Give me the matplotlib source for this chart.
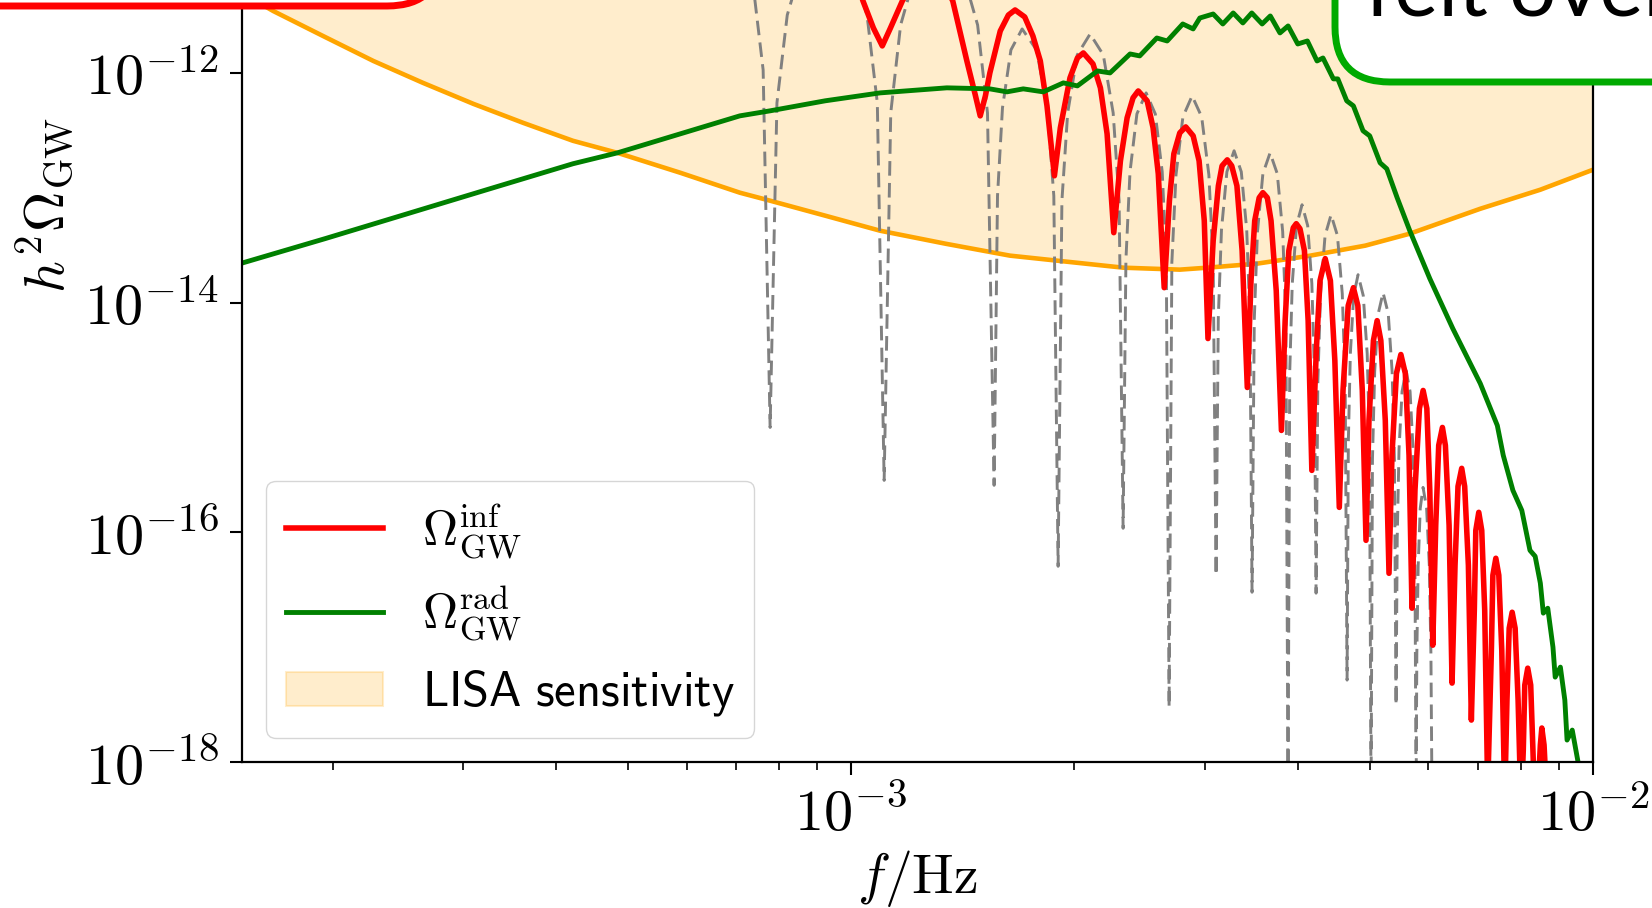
import numpy as np
import matplotlib
matplotlib.use("Agg")
import matplotlib.pyplot as plt
from matplotlib.patches import FancyBboxPatch
from matplotlib.ticker import FuncFormatter, LogLocator, NullLocator, NullFormatter

plt.rcParams['mathtext.fontset'] = 'cm'

# --------------------------------------------
# Data (log10 f/Hz , log10 h^2 Omega_GW)
# --------------------------------------------
# LISA sensitivity curve
lisa_logf = [-3.819, -3.779, -3.712, -3.644, -3.577, -3.509, -3.442, -3.375, -3.315,
             -3.230, -3.150, -3.109, -3.035, -2.961, -2.873, -2.786, -2.722, -2.633,
             -2.557, -2.520, -2.453, -2.381, -2.307, -2.247, -2.152, -2.071, -2.000]
lisa_logomega = [-11.313, -11.461, -11.678, -11.896, -12.087, -12.270, -12.435, -12.591, -12.696,
                 -12.870, -13.043, -13.113, -13.243, -13.374, -13.487, -13.591, -13.635, -13.696,
                 -13.713, -13.696, -13.661, -13.591, -13.504, -13.400, -13.183, -13.017, -12.843]

# Omega_GW^rad
rad_logf = [-3.819, -3.709, -3.598, -3.487, -3.375, -3.315, -3.230, -3.150, -3.109, -3.035,
            -2.961, -2.871, -2.813, -2.790, -2.768, -2.741, -2.714, -2.695, -2.668, -2.651,
            -2.624, -2.611, -2.588, -2.574, -2.553, -2.539, -2.530, -2.512, -2.499, -2.485,
            -2.472, -2.460, -2.446, -2.435, -2.422, -2.411, -2.398, -2.385, -2.372, -2.364,
            -2.350, -2.344, -2.332, -2.323, -2.310, -2.301, -2.287, -2.278, -2.264, -2.247,
            -2.220, -2.189, -2.152, -2.129, -2.121, -2.108, -2.096, -2.085, -2.078, -2.071,
            -2.067, -2.061, -2.054, -2.051, -2.044, -2.038, -2.035, -2.028, -2.017]
rad_logomega = [-13.652, -13.443, -13.226, -13.009, -12.791, -12.696, -12.530, -12.374, -12.330, -12.243,
                -12.174, -12.130, -12.139, -12.165, -12.139, -12.165, -12.087, -12.113, -11.983, -12.000,
                -11.835, -11.852, -11.696, -11.722, -11.574, -11.617, -11.522, -11.487, -11.574, -11.478,
                -11.565, -11.478, -11.574, -11.504, -11.652, -11.591, -11.748, -11.722, -11.896, -11.870,
                -12.052, -12.052, -12.243, -12.287, -12.504, -12.548, -12.783, -12.835, -13.087, -13.374,
                -13.791, -14.226, -14.704, -15.070, -15.330, -15.635, -15.809, -16.157, -16.209, -16.443,
                -16.704, -16.661, -17.000, -17.261, -17.174, -17.461, -17.809, -17.722, -18.113]

# Omega_GW^inf
inf_logf = [-3.001, -2.984, -2.970, -2.958, -2.947, -2.931, -2.914, -2.896, -2.877, -2.863,
            -2.844, -2.833, -2.826, -2.819, -2.813, -2.799, -2.788, -2.779, -2.766, -2.755,
            -2.745, -2.736, -2.726,
            -2.718, -2.705, -2.695, -2.687, -2.674, -2.664, -2.655, -2.646,
            -2.637, -2.628, -2.620, -2.613, -2.601, -2.593, -2.586, -2.578,
            -2.571, -2.565, -2.557, -2.549, -2.539, -2.531, -2.524, -2.519,
            -2.512, -2.505, -2.500, -2.493, -2.487, -2.480, -2.473, -2.466,
            -2.461, -2.456, -2.450, -2.445, -2.439, -2.434, -2.427, -2.420,
            -2.415, -2.410, -2.404, -2.400, -2.395, -2.389, -2.384, -2.379,
            -2.373, -2.368, -2.361, -2.354, -2.348, -2.342,
            -2.337, -2.330, -2.323, -2.317, -2.311, -2.306,
            -2.302, -2.296, -2.291, -2.286, -2.280, -2.275,
            -2.271, -2.265, -2.259, -2.253, -2.248, -2.244,
            -2.240, -2.234, -2.229, -2.224, -2.220, -2.216,
            -2.212, -2.208, -2.203, -2.199, -2.194, -2.190,
            -2.186, -2.182, -2.177, -2.173, -2.168, -2.164,
            -2.160, -2.158, -2.154, -2.150, -2.146, -2.142,
            -2.137, -2.135, -2.131, -2.127, -2.123, -2.119,
            -2.116, -2.113, -2.109, -2.105, -2.101, -2.097,
            -2.094, -2.092, -2.088, -2.084, -2.081, -2.078,
            -2.074, -2.071, -2.069, -2.066, -2.063, -2.059]
inf_logomega = [-11.026, -11.374, -11.609, -11.765, -11.609, -11.374, -11.183, -11.113, -11.183, -11.374,
                -11.896, -12.183, -12.374, -12.200, -12.000, -11.635, -11.496, -11.452, -11.513, -11.678,
                -11.896, -12.287, -12.896,
                -12.478, -12.043, -11.870, -11.826, -11.922, -12.130, -12.530, -13.391,
                -12.765, -12.391, -12.217, -12.157, -12.243, -12.478, -12.878, -13.870,
                -13.113, -12.704, -12.522, -12.470, -12.548, -12.765, -13.287, -14.313,
                -13.461, -12.983, -12.809, -12.757, -12.809, -12.983, -13.548, -14.739,
                -13.809, -13.287, -13.087, -13.043, -13.087, -13.287, -13.896, -15.113,
                -14.157, -13.548, -13.348, -13.313, -13.357, -13.548, -14.157, -15.461,
                -14.417, -13.809, -13.617, -13.809, -14.504, -15.783,
                -14.765, -14.026, -13.870, -14.026, -14.765, -16.070,
                -15.026, -14.330, -14.157, -14.330, -15.026, -16.357,
                -15.330, -14.617, -14.452, -14.617, -15.330, -16.661,
                -15.635, -14.922, -14.765, -14.922, -15.635, -16.983,
                -15.939, -15.243, -15.087, -15.243, -15.939, -17.313,
                -16.287, -15.600, -15.443, -15.600, -16.287, -17.635,
                -16.678, -15.983, -15.826, -15.983, -16.678, -18.243,
                -17.026, -16.374, -16.226, -16.374, -17.026, -18.330,
                -17.461, -16.835, -16.696, -16.835, -17.461, -18.417,
                -17.896, -17.330, -17.183, -17.330, -17.896, -18.504,
                -18.243, -17.852, -17.704, -17.852, -18.243, -18.591]

# grey dashed reference spectrum
ref_logf = [-3.1873, -3.1563, -3.1326, -3.1186, -3.1092,
            -3.1000, -3.0861, -3.0631, -3.0323, -3.0016, -2.9786, -2.9647, -2.9555,
            -2.9466, -2.9333, -2.9110, -2.8814, -2.8518, -2.8295, -2.8162, -2.8073,
            -2.8027, -2.7960, -2.7846, -2.7695, -2.7501, -2.7356, -2.7268, -2.7210,
            -2.7159, -2.7081, -2.6952, -2.6779, -2.6601, -2.6468, -2.6388, -2.6334,
            -2.6296, -2.6241, -2.6148, -2.6024, -2.5900, -2.5807, -2.5752, -2.5714,
            -2.5677, -2.5621, -2.5528, -2.5404, -2.5275, -2.5178, -2.5120, -2.5081,
            -2.5051, -2.5008, -2.4935, -2.4838, -2.4741, -2.4668, -2.4625, -2.4596,
            -2.4566, -2.4523, -2.4450, -2.4353, -2.4256, -2.4183, -2.4140, -2.4111,
            -2.4088, -2.4054, -2.3997, -2.3922, -2.3846, -2.3790, -2.3756, -2.3733,
            -2.3709, -2.3673, -2.3612, -2.3531, -2.3445, -2.3380, -2.3341, -2.3315,
            -2.3298, -2.3271, -2.3226, -2.3167, -2.3097, -2.3044, -2.3013, -2.2992,
            -2.2973, -2.2943, -2.2895, -2.2830, -2.2760, -2.2708, -2.2677, -2.2655,
            -2.2639, -2.2615, -2.2574, -2.2520, -2.2466, -2.2426, -2.2402, -2.2385,
            -2.2375, -2.2357, -2.2329, -2.2291, -2.2243, -2.2206, -2.2185, -2.2170]
ref_logomega = [-10.522, -10.704, -11.209, -11.974, -15.087,
                -12.261, -11.496, -10.991, -10.809, -10.991, -11.496, -12.261, -15.548,
                -12.348, -11.583, -11.078, -10.896, -11.078, -11.583, -12.348, -15.591,
                -13.070, -12.304, -11.800, -11.617, -11.800, -12.304, -13.070, -16.296,
                -13.113, -12.348, -11.843, -11.661, -11.843, -12.348, -13.113, -15.965,
                -13.626, -12.861, -12.357, -12.174, -12.357, -12.861, -13.626, -17.522,
                -13.652, -12.887, -12.383, -12.200, -12.383, -12.887, -13.652, -16.374,
                -14.130, -13.365, -12.861, -12.678, -12.861, -13.365, -14.130, -16.522,
                -14.148, -13.383, -12.878, -12.696, -12.878, -13.383, -14.148, -18.330,
                -14.600, -13.835, -13.330, -13.148, -13.330, -13.835, -14.600, -16.530,
                -14.687, -13.922, -13.417, -13.235, -13.417, -13.922, -14.687, -17.287,
                -15.209, -14.443, -13.939, -13.757, -13.939, -14.443, -15.209, -18.330,
                -15.365, -14.600, -14.096, -13.913, -14.096, -14.600, -15.365, -17.504,
                -16.043, -15.278, -14.774, -14.591, -14.774, -15.278, -16.043, -18.330,
                -17.061, -16.296, -15.791, -15.609, -15.791, -16.296, -17.061, -18.330]

xlim = (1.51e-4, 1e-2)
ylim = (1e-18, 10**-8.3)
y_ticks = [1e-18, 1e-16, 1e-14, 1e-12]

f_lisa, om_lisa = 10**np.array(lisa_logf), 10**np.array(lisa_logomega)
f_rad, om_rad = 10**np.array(rad_logf), 10**np.array(rad_logomega)
f_inf, om_inf = 10**np.array(inf_logf), 10**np.array(inf_logomega)
f_ref, om_ref = 10**np.array(ref_logf), 10**np.array(ref_logomega)

# --------------------------------------------
# Plot
# --------------------------------------------
fig = plt.figure(figsize=(16.52, 9.08), dpi=100)
# the screenshot is a crop: the axes run past the top edge of the figure
ax = fig.add_axes([0.1465, 0.1608, 0.8178, 1.2269])

lisa = ax.fill_between(f_lisa, om_lisa, ylim[1], color='orange', alpha=0.2, lw=1.5,
                       label=r'$\mathsf{LISA\ sensitivity}$')
ax.plot(f_lisa, om_lisa, color='orange', lw=3.3)
ax.plot(f_ref, om_ref, color='gray', lw=2.1, ls=(0, (5, 2.5)))
l_inf, = ax.plot(f_inf, om_inf, color='red', lw=4.0, label=r'$\Omega_{\rm GW}^{\rm inf}$')
l_rad, = ax.plot(f_rad, om_rad, color='green', lw=3.5, label=r'$\Omega_{\rm GW}^{\rm rad}$')

ax.set_xscale('log')
ax.set_yscale('log')
ax.set_xlim(*xlim)
ax.set_ylim(*ylim)

pow10 = FuncFormatter(lambda v, p: r'$10^{%d}$' % round(np.log10(v)))
ax.set_yticks(y_ticks)
ax.yaxis.set_minor_locator(NullLocator())
ax.yaxis.set_major_formatter(pow10)
ax.xaxis.set_major_locator(LogLocator(base=10))
ax.xaxis.set_minor_locator(LogLocator(base=10, subs=np.arange(2, 10)))
ax.xaxis.set_major_formatter(pow10)
ax.xaxis.set_minor_formatter(NullFormatter())
ax.tick_params(which='major', length=9, width=1.5, labelsize=42, pad=8)
ax.tick_params(which='minor', length=5.5, width=1.2)
for s in ax.spines.values():
    s.set_linewidth(1.6)

ax.set_xlabel(r'$f/{\rm Hz}$', fontsize=40, labelpad=4)
ax.set_ylabel(r'$h^2\Omega_{\rm GW}$', fontsize=40, labelpad=6)

ax.legend(handles=[l_inf, l_rad, lisa], loc='lower left', fontsize=35)

# annotation boxes cut by the top edge of the screenshot
red_box = FancyBboxPatch((-1.0, 9.02), 5.42, 1.5, boxstyle='round,pad=0,rounding_size=0.55',
                         transform=fig.dpi_scale_trans, fc='white', ec='#ff0000', lw=5)
green_box = FancyBboxPatch((13.35, 8.26), 5.0, 2.0, boxstyle='round,pad=0,rounding_size=0.55',
                           transform=fig.dpi_scale_trans, fc='white', ec='#00aa00', lw=5)
fig.add_artist(red_box)
fig.add_artist(green_box)
fig.text(13.65, 9.08 - 0.15, 'felt over', transform=fig.dpi_scale_trans,
         fontsize=60, family='Lato', va='baseline', ha='left')

fig.savefig('out.png', dpi=100)
